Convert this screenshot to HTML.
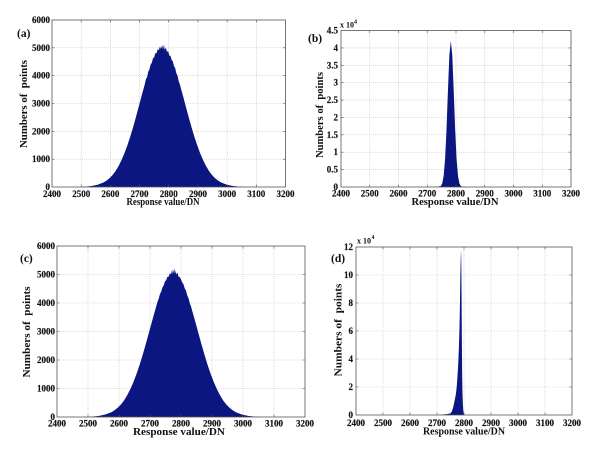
<!DOCTYPE html>
<html><head><meta charset="utf-8"><style>
html,body{margin:0;padding:0;background:#fff;}
svg{display:block;}
text{font-family:"Liberation Serif",serif;font-weight:bold;fill:#111;}
.t{font-size:9px;}
.t text{stroke:#111;stroke-width:0.15;}
.grid{stroke:#c4c4c4;stroke-width:0.6;stroke-dasharray:1 1;fill:none;}
.box{stroke:#555;stroke-width:0.8;fill:none;}
.tk{stroke:#555;stroke-width:0.6;fill:none;}
.bar{fill:#0b1680;}
</style></head><body>
<svg width="600" height="456" viewBox="0 0 600 456" xmlns="http://www.w3.org/2000/svg">
<rect width="600" height="456" fill="#fff"/>

<!-- ===== Panel (a) ===== -->
<path class="grid" d="M81.19,20V187M110.38,20V187M139.56,20V187M168.75,20V187M197.94,20V187M227.13,20V187M256.31,20V187M52,159.17H285.5M52,131.33H285.5M52,103.5H285.5M52,75.67H285.5M52,47.83H285.5"/>
<g transform="translate(162.3,187) scale(0.2919,-139.2)">
<polygon class="bar" points="-282,0 -262,0.003 -240,0.008 -220,0.017 -200,0.034 -190,0.048 -180,0.065 -170,0.087 -160,0.115 -150,0.150 -140,0.192 -130,0.241 -120,0.297 -110,0.360 -100,0.430 -90,0.505 -80,0.583 -70,0.662 -60,0.738 -56,0.775 -52,0.790 -48,0.830 -44,0.845 -40,0.880 -36,0.892 -32,0.925 -28,0.930 -24,0.962 -20,0.960 -16,0.990 -12,0.982 -8,1.010 -6,0.990 -4,1.015 -2,0.995 0,1.020 2,0.99 4,1.005 6,1.025 8,0.985 12,1.0 16,0.972 20,0.975 24,0.945 28,0.942 32,0.912 36,0.903 40,0.868 44,0.855 48,0.818 52,0.80 56,0.762 60,0.738 70,0.662 80,0.583 90,0.505 100,0.430 110,0.360 120,0.297 130,0.241 140,0.192 150,0.150 160,0.115 170,0.087 180,0.065 190,0.048 200,0.034 220,0.017 240,0.008 262,0.003 282,0"/>
</g>
<rect class="box" x="52" y="20" width="233.5" height="167"/>
<path class="tk" d="M81.19,187v-2.5M110.38,187v-2.5M139.56,187v-2.5M168.75,187v-2.5M197.94,187v-2.5M227.13,187v-2.5M256.31,187v-2.5M81.19,20v2.5M110.38,20v2.5M139.56,20v2.5M168.75,20v2.5M197.94,20v2.5M227.13,20v2.5M256.31,20v2.5M52,159.17h2.5M52,131.33h2.5M52,103.5h2.5M52,75.67h2.5M52,47.83h2.5M285.5,159.17h-2.5M285.5,131.33h-2.5M285.5,103.5h-2.5M285.5,75.67h-2.5M285.5,47.83h-2.5"/>
<g class="t" text-anchor="end">
<text x="50" y="190">0</text><text x="50" y="162.2">1000</text><text x="50" y="134.3">2000</text><text x="50" y="106.5">3000</text><text x="50" y="78.7">4000</text><text x="50" y="50.8">5000</text><text x="50" y="23">6000</text>
</g>
<g class="t" text-anchor="middle">
<text x="52" y="197">2400</text><text x="81.19" y="197">2500</text><text x="110.38" y="197">2600</text><text x="139.56" y="197">2700</text><text x="168.75" y="197">2800</text><text x="197.94" y="197">2900</text><text x="227.13" y="197">3000</text><text x="256.31" y="197">3100</text><text x="285.5" y="197">3200</text>
</g>
<text x="163" y="205" font-size="10" text-anchor="middle" textLength="73" lengthAdjust="spacingAndGlyphs">Response value/DN</text>
<text transform="translate(27,104) rotate(-90)" font-size="10.5" text-anchor="middle" textLength="88" lengthAdjust="spacingAndGlyphs" style="white-space:pre">Numbers of  points</text>
<text x="17" y="37" font-size="11.5">(a)</text>

<!-- ===== Panel (b) ===== -->
<path class="grid" d="M369.75,30.5V187M398.5,30.5V187M427.25,30.5V187M456,30.5V187M484.75,30.5V187M513.5,30.5V187M542.25,30.5V187M341,169.61H571M341,152.22H571M341,134.83H571M341,117.44H571M341,100.06H571M341,82.67H571M341,65.28H571M341,47.89H571"/>
<g transform="translate(341,187) scale(0.2875,-34.78)">
<polygon class="bar" points="300,0 330,0.004 347,0.026 352,0.10 357,0.318 362,0.80 367,1.66 372,2.78 377,3.79 382,4.2 387,3.79 392,2.78 397,1.66 402,0.80 407,0.318 412,0.10 417,0.026 425,0.005 440,0"/>
</g>
<rect class="box" x="341" y="30.5" width="230" height="156.5"/>
<path class="tk" d="M369.75,187v-2.5M398.5,187v-2.5M427.25,187v-2.5M456,187v-2.5M484.75,187v-2.5M513.5,187v-2.5M542.25,187v-2.5M369.75,30.5v2.5M398.5,30.5v2.5M427.25,30.5v2.5M456,30.5v2.5M484.75,30.5v2.5M513.5,30.5v2.5M542.25,30.5v2.5M341,169.61h2.5M341,152.22h2.5M341,134.83h2.5M341,117.44h2.5M341,100.06h2.5M341,82.67h2.5M341,65.28h2.5M341,47.89h2.5M571,169.61h-2.5M571,152.22h-2.5M571,134.83h-2.5M571,117.44h-2.5M571,100.06h-2.5M571,82.67h-2.5M571,65.28h-2.5M571,47.89h-2.5"/>
<g class="t" text-anchor="end">
<text x="338" y="190">0</text><text x="338" y="172.6">0.5</text><text x="338" y="155.2">1</text><text x="338" y="137.8">1.5</text><text x="338" y="120.4">2</text><text x="338" y="103.1">2.5</text><text x="338" y="85.7">3</text><text x="338" y="68.3">3.5</text><text x="338" y="50.9">4</text><text x="338" y="33.5">4.5</text>
</g>
<text x="340" y="27.5" font-size="8">x 10</text><text x="354" y="23.3" font-size="6">4</text>
<g class="t" text-anchor="middle">
<text x="341" y="196.5">2400</text><text x="369.75" y="196.5">2500</text><text x="398.5" y="196.5">2600</text><text x="427.25" y="196.5">2700</text><text x="456" y="196.5">2800</text><text x="484.75" y="196.5">2900</text><text x="513.5" y="196.5">3000</text><text x="542.25" y="196.5">3100</text><text x="571" y="196.5">3200</text>
</g>
<text x="455" y="205" font-size="10" text-anchor="middle" textLength="87" lengthAdjust="spacingAndGlyphs">Response value/DN</text>
<text transform="translate(323,115) rotate(-90)" font-size="10.5" text-anchor="middle" textLength="86" lengthAdjust="spacingAndGlyphs" style="white-space:pre">Numbers of  points</text>
<text x="308" y="42" font-size="11.5">(b)</text>

<!-- ===== Panel (c) ===== -->
<path class="grid" d="M88,246V417M119,246V417M150,246V417M181,246V417M212,246V417M243,246V417M274,246V417M57,388.5H305M57,360H305M57,331.5H305M57,303H305M57,274.5H305"/>
<g transform="translate(173.6,417) scale(0.31,-143.9)">
<polygon class="bar" points="-282,0 -262,0.003 -240,0.008 -220,0.017 -200,0.034 -190,0.048 -180,0.065 -170,0.087 -160,0.115 -150,0.150 -140,0.192 -130,0.241 -120,0.297 -110,0.360 -100,0.430 -90,0.505 -80,0.583 -70,0.662 -60,0.738 -56,0.770 -52,0.800 -48,0.822 -44,0.855 -40,0.872 -36,0.900 -32,0.915 -28,0.942 -24,0.950 -20,0.975 -16,0.975 -12,1.0 -8,0.99 -6,1.02 -4,0.995 -2,1.03 0,1.0 2,1.035 4,0.995 6,1.02 8,0.99 12,1.005 16,0.975 20,0.972 24,0.955 28,0.935 32,0.922 36,0.893 40,0.878 44,0.845 48,0.826 52,0.792 56,0.770 60,0.738 70,0.662 80,0.583 90,0.505 100,0.430 110,0.360 120,0.297 130,0.241 140,0.192 150,0.150 160,0.115 170,0.087 180,0.065 190,0.048 200,0.034 220,0.017 240,0.008 262,0.003 282,0"/>
</g>
<rect class="box" x="57" y="246" width="248" height="171"/>
<path class="tk" d="M88,417v-2.5M119,417v-2.5M150,417v-2.5M181,417v-2.5M212,417v-2.5M243,417v-2.5M274,417v-2.5M88,246v2.5M119,246v2.5M150,246v2.5M181,246v2.5M212,246v2.5M243,246v2.5M274,246v2.5M57,388.5h2.5M57,360h2.5M57,331.5h2.5M57,303h2.5M57,274.5h2.5M305,388.5h-2.5M305,360h-2.5M305,331.5h-2.5M305,303h-2.5M305,274.5h-2.5"/>
<g class="t" text-anchor="end">
<text x="55" y="420">0</text><text x="55" y="391.5">1000</text><text x="55" y="363">2000</text><text x="55" y="334.5">3000</text><text x="55" y="306">4000</text><text x="55" y="277.5">5000</text><text x="55" y="249">6000</text>
</g>
<g class="t" text-anchor="middle">
<text x="57" y="426.5">2400</text><text x="88" y="426.5">2500</text><text x="119" y="426.5">2600</text><text x="150" y="426.5">2700</text><text x="181" y="426.5">2800</text><text x="212" y="426.5">2900</text><text x="243" y="426.5">3000</text><text x="274" y="426.5">3100</text><text x="305" y="426.5">3200</text>
</g>
<text x="179" y="435" font-size="10.5" text-anchor="middle" textLength="92" lengthAdjust="spacingAndGlyphs">Response value/DN</text>
<text transform="translate(30,332) rotate(-90)" font-size="10.5" text-anchor="middle" textLength="91" lengthAdjust="spacingAndGlyphs" style="white-space:pre">Numbers of  points</text>
<text x="20" y="262" font-size="11.5">(c)</text>

<!-- ===== Panel (d) ===== -->
<path class="grid" d="M383,247V415M410,247V415M437,247V415M464,247V415M491,247V415M518,247V415M545,247V415M356,387H572M356,359H572M356,331H572M356,303H572M356,275H572"/>
<g transform="translate(356,415) scale(0.27,-14)">
<polygon class="bar" points="300,0 320,0.03 340,0.07 350,0.12 355,0.25 360,0.55 365,1.0 370,1.5 373,2.0 376,2.8 379,3.8 381,4.8 383,6.0 385,7.8 386.5,10 388,11.2 389,11.8 390,11.0 391,8.5 392,5.5 393,3.2 394,1.8 396,0.7 398,0.2 402,0"/>
</g>
<rect class="box" x="356" y="247" width="216" height="168"/>
<path class="tk" d="M383,415v-2.5M410,415v-2.5M437,415v-2.5M464,415v-2.5M491,415v-2.5M518,415v-2.5M545,415v-2.5M383,247v2.5M410,247v2.5M437,247v2.5M464,247v2.5M491,247v2.5M518,247v2.5M545,247v2.5M356,387h2.5M356,359h2.5M356,331h2.5M356,303h2.5M356,275h2.5M572,387h-2.5M572,359h-2.5M572,331h-2.5M572,303h-2.5M572,275h-2.5"/>
<g class="t" text-anchor="end">
<text x="353" y="418">0</text><text x="353" y="390">2</text><text x="353" y="362">4</text><text x="353" y="334">6</text><text x="353" y="306">8</text><text x="353" y="278">10</text><text x="353" y="250">12</text>
</g>
<text x="357" y="243.5" font-size="8">x 10</text><text x="371.5" y="239" font-size="6">4</text>
<g class="t" text-anchor="middle">
<text x="356" y="426">2400</text><text x="383" y="426">2500</text><text x="410" y="426">2600</text><text x="437" y="426">2700</text><text x="464" y="426">2800</text><text x="491" y="426">2900</text><text x="518" y="426">3000</text><text x="545" y="426">3100</text><text x="572" y="426">3200</text>
</g>
<text x="464" y="434.5" font-size="10" text-anchor="middle" textLength="82" lengthAdjust="spacingAndGlyphs">Response value/DN</text>
<text transform="translate(341.5,330) rotate(-90)" font-size="10.5" text-anchor="middle" textLength="93" lengthAdjust="spacingAndGlyphs" style="white-space:pre">Numbers of  points</text>
<text x="331" y="262" font-size="11.5">(d)</text>
</svg>
</body></html>
